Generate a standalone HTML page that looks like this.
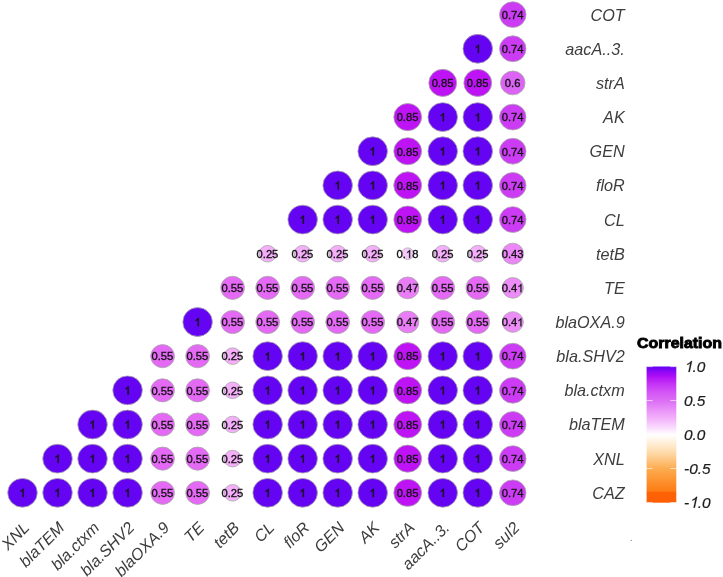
<!DOCTYPE html><html><head><meta charset="utf-8"><style>html,body{margin:0;padding:0;background:#fff}body{width:723px;height:577px;overflow:hidden}</style></head><body><svg width="723" height="577" viewBox="0 0 723 577" style="display:block;filter:blur(0.4px);font-family:'Liberation Sans',sans-serif">
<rect width="723" height="577" fill="#fff"/>
<ellipse cx="22.50" cy="492.80" rx="14.77" ry="14.40" fill="#6404F2" stroke="#a8a8a8" stroke-width="0.8"/>
<ellipse cx="57.52" cy="492.80" rx="14.77" ry="14.40" fill="#6404F2" stroke="#a8a8a8" stroke-width="0.8"/>
<ellipse cx="92.54" cy="492.80" rx="14.77" ry="14.40" fill="#6404F2" stroke="#a8a8a8" stroke-width="0.8"/>
<ellipse cx="127.56" cy="492.80" rx="14.77" ry="14.40" fill="#6404F2" stroke="#a8a8a8" stroke-width="0.8"/>
<ellipse cx="162.58" cy="492.80" rx="11.88" ry="11.58" fill="#E469F5" stroke="#a8a8a8" stroke-width="0.8"/>
<ellipse cx="197.60" cy="492.80" rx="11.88" ry="11.58" fill="#E469F5" stroke="#a8a8a8" stroke-width="0.8"/>
<ellipse cx="232.62" cy="492.80" rx="8.53" ry="8.31" fill="#F5AFFA" stroke="#a8a8a8" stroke-width="0.8"/>
<ellipse cx="267.64" cy="492.80" rx="14.77" ry="14.40" fill="#6404F2" stroke="#a8a8a8" stroke-width="0.8"/>
<ellipse cx="302.66" cy="492.80" rx="14.77" ry="14.40" fill="#6404F2" stroke="#a8a8a8" stroke-width="0.8"/>
<ellipse cx="337.68" cy="492.80" rx="14.77" ry="14.40" fill="#6404F2" stroke="#a8a8a8" stroke-width="0.8"/>
<ellipse cx="372.70" cy="492.80" rx="14.77" ry="14.40" fill="#6404F2" stroke="#a8a8a8" stroke-width="0.8"/>
<ellipse cx="407.72" cy="492.80" rx="13.92" ry="13.57" fill="#BE14F5" stroke="#a8a8a8" stroke-width="0.8"/>
<ellipse cx="442.74" cy="492.80" rx="14.77" ry="14.40" fill="#6404F2" stroke="#a8a8a8" stroke-width="0.8"/>
<ellipse cx="477.76" cy="492.80" rx="14.77" ry="14.40" fill="#6404F2" stroke="#a8a8a8" stroke-width="0.8"/>
<ellipse cx="512.78" cy="492.80" rx="13.24" ry="12.91" fill="#CD3CF5" stroke="#a8a8a8" stroke-width="0.8"/>
<ellipse cx="57.52" cy="458.64" rx="14.77" ry="14.40" fill="#6404F2" stroke="#a8a8a8" stroke-width="0.8"/>
<ellipse cx="92.54" cy="458.64" rx="14.77" ry="14.40" fill="#6404F2" stroke="#a8a8a8" stroke-width="0.8"/>
<ellipse cx="127.56" cy="458.64" rx="14.77" ry="14.40" fill="#6404F2" stroke="#a8a8a8" stroke-width="0.8"/>
<ellipse cx="162.58" cy="458.64" rx="11.88" ry="11.58" fill="#E469F5" stroke="#a8a8a8" stroke-width="0.8"/>
<ellipse cx="197.60" cy="458.64" rx="11.88" ry="11.58" fill="#E469F5" stroke="#a8a8a8" stroke-width="0.8"/>
<ellipse cx="232.62" cy="458.64" rx="8.53" ry="8.31" fill="#F5AFFA" stroke="#a8a8a8" stroke-width="0.8"/>
<ellipse cx="267.64" cy="458.64" rx="14.77" ry="14.40" fill="#6404F2" stroke="#a8a8a8" stroke-width="0.8"/>
<ellipse cx="302.66" cy="458.64" rx="14.77" ry="14.40" fill="#6404F2" stroke="#a8a8a8" stroke-width="0.8"/>
<ellipse cx="337.68" cy="458.64" rx="14.77" ry="14.40" fill="#6404F2" stroke="#a8a8a8" stroke-width="0.8"/>
<ellipse cx="372.70" cy="458.64" rx="14.77" ry="14.40" fill="#6404F2" stroke="#a8a8a8" stroke-width="0.8"/>
<ellipse cx="407.72" cy="458.64" rx="13.92" ry="13.57" fill="#BE14F5" stroke="#a8a8a8" stroke-width="0.8"/>
<ellipse cx="442.74" cy="458.64" rx="14.77" ry="14.40" fill="#6404F2" stroke="#a8a8a8" stroke-width="0.8"/>
<ellipse cx="477.76" cy="458.64" rx="14.77" ry="14.40" fill="#6404F2" stroke="#a8a8a8" stroke-width="0.8"/>
<ellipse cx="512.78" cy="458.64" rx="13.24" ry="12.91" fill="#CD3CF5" stroke="#a8a8a8" stroke-width="0.8"/>
<ellipse cx="92.54" cy="424.48" rx="14.77" ry="14.40" fill="#6404F2" stroke="#a8a8a8" stroke-width="0.8"/>
<ellipse cx="127.56" cy="424.48" rx="14.77" ry="14.40" fill="#6404F2" stroke="#a8a8a8" stroke-width="0.8"/>
<ellipse cx="162.58" cy="424.48" rx="11.88" ry="11.58" fill="#E469F5" stroke="#a8a8a8" stroke-width="0.8"/>
<ellipse cx="197.60" cy="424.48" rx="11.88" ry="11.58" fill="#E469F5" stroke="#a8a8a8" stroke-width="0.8"/>
<ellipse cx="232.62" cy="424.48" rx="8.53" ry="8.31" fill="#F5AFFA" stroke="#a8a8a8" stroke-width="0.8"/>
<ellipse cx="267.64" cy="424.48" rx="14.77" ry="14.40" fill="#6404F2" stroke="#a8a8a8" stroke-width="0.8"/>
<ellipse cx="302.66" cy="424.48" rx="14.77" ry="14.40" fill="#6404F2" stroke="#a8a8a8" stroke-width="0.8"/>
<ellipse cx="337.68" cy="424.48" rx="14.77" ry="14.40" fill="#6404F2" stroke="#a8a8a8" stroke-width="0.8"/>
<ellipse cx="372.70" cy="424.48" rx="14.77" ry="14.40" fill="#6404F2" stroke="#a8a8a8" stroke-width="0.8"/>
<ellipse cx="407.72" cy="424.48" rx="13.92" ry="13.57" fill="#BE14F5" stroke="#a8a8a8" stroke-width="0.8"/>
<ellipse cx="442.74" cy="424.48" rx="14.77" ry="14.40" fill="#6404F2" stroke="#a8a8a8" stroke-width="0.8"/>
<ellipse cx="477.76" cy="424.48" rx="14.77" ry="14.40" fill="#6404F2" stroke="#a8a8a8" stroke-width="0.8"/>
<ellipse cx="512.78" cy="424.48" rx="13.24" ry="12.91" fill="#CD3CF5" stroke="#a8a8a8" stroke-width="0.8"/>
<ellipse cx="127.56" cy="390.33" rx="14.77" ry="14.40" fill="#6404F2" stroke="#a8a8a8" stroke-width="0.8"/>
<ellipse cx="162.58" cy="390.33" rx="11.88" ry="11.58" fill="#E469F5" stroke="#a8a8a8" stroke-width="0.8"/>
<ellipse cx="197.60" cy="390.33" rx="11.88" ry="11.58" fill="#E469F5" stroke="#a8a8a8" stroke-width="0.8"/>
<ellipse cx="232.62" cy="390.33" rx="8.53" ry="8.31" fill="#F5AFFA" stroke="#a8a8a8" stroke-width="0.8"/>
<ellipse cx="267.64" cy="390.33" rx="14.77" ry="14.40" fill="#6404F2" stroke="#a8a8a8" stroke-width="0.8"/>
<ellipse cx="302.66" cy="390.33" rx="14.77" ry="14.40" fill="#6404F2" stroke="#a8a8a8" stroke-width="0.8"/>
<ellipse cx="337.68" cy="390.33" rx="14.77" ry="14.40" fill="#6404F2" stroke="#a8a8a8" stroke-width="0.8"/>
<ellipse cx="372.70" cy="390.33" rx="14.77" ry="14.40" fill="#6404F2" stroke="#a8a8a8" stroke-width="0.8"/>
<ellipse cx="407.72" cy="390.33" rx="13.92" ry="13.57" fill="#BE14F5" stroke="#a8a8a8" stroke-width="0.8"/>
<ellipse cx="442.74" cy="390.33" rx="14.77" ry="14.40" fill="#6404F2" stroke="#a8a8a8" stroke-width="0.8"/>
<ellipse cx="477.76" cy="390.33" rx="14.77" ry="14.40" fill="#6404F2" stroke="#a8a8a8" stroke-width="0.8"/>
<ellipse cx="512.78" cy="390.33" rx="13.24" ry="12.91" fill="#CD3CF5" stroke="#a8a8a8" stroke-width="0.8"/>
<ellipse cx="162.58" cy="356.17" rx="11.88" ry="11.58" fill="#E469F5" stroke="#a8a8a8" stroke-width="0.8"/>
<ellipse cx="197.60" cy="356.17" rx="11.88" ry="11.58" fill="#E469F5" stroke="#a8a8a8" stroke-width="0.8"/>
<ellipse cx="232.62" cy="356.17" rx="8.53" ry="8.31" fill="#F5AFFA" stroke="#a8a8a8" stroke-width="0.8"/>
<ellipse cx="267.64" cy="356.17" rx="14.77" ry="14.40" fill="#6404F2" stroke="#a8a8a8" stroke-width="0.8"/>
<ellipse cx="302.66" cy="356.17" rx="14.77" ry="14.40" fill="#6404F2" stroke="#a8a8a8" stroke-width="0.8"/>
<ellipse cx="337.68" cy="356.17" rx="14.77" ry="14.40" fill="#6404F2" stroke="#a8a8a8" stroke-width="0.8"/>
<ellipse cx="372.70" cy="356.17" rx="14.77" ry="14.40" fill="#6404F2" stroke="#a8a8a8" stroke-width="0.8"/>
<ellipse cx="407.72" cy="356.17" rx="13.92" ry="13.57" fill="#BE14F5" stroke="#a8a8a8" stroke-width="0.8"/>
<ellipse cx="442.74" cy="356.17" rx="14.77" ry="14.40" fill="#6404F2" stroke="#a8a8a8" stroke-width="0.8"/>
<ellipse cx="477.76" cy="356.17" rx="14.77" ry="14.40" fill="#6404F2" stroke="#a8a8a8" stroke-width="0.8"/>
<ellipse cx="512.78" cy="356.17" rx="13.24" ry="12.91" fill="#CD3CF5" stroke="#a8a8a8" stroke-width="0.8"/>
<ellipse cx="197.60" cy="322.01" rx="14.77" ry="14.40" fill="#6404F2" stroke="#a8a8a8" stroke-width="0.8"/>
<ellipse cx="232.62" cy="322.01" rx="11.88" ry="11.58" fill="#E469F5" stroke="#a8a8a8" stroke-width="0.8"/>
<ellipse cx="267.64" cy="322.01" rx="11.88" ry="11.58" fill="#E469F5" stroke="#a8a8a8" stroke-width="0.8"/>
<ellipse cx="302.66" cy="322.01" rx="11.88" ry="11.58" fill="#E469F5" stroke="#a8a8a8" stroke-width="0.8"/>
<ellipse cx="337.68" cy="322.01" rx="11.88" ry="11.58" fill="#E469F5" stroke="#a8a8a8" stroke-width="0.8"/>
<ellipse cx="372.70" cy="322.01" rx="11.88" ry="11.58" fill="#E469F5" stroke="#a8a8a8" stroke-width="0.8"/>
<ellipse cx="407.72" cy="322.01" rx="11.20" ry="10.91" fill="#E87DF5" stroke="#a8a8a8" stroke-width="0.8"/>
<ellipse cx="442.74" cy="322.01" rx="11.88" ry="11.58" fill="#E469F5" stroke="#a8a8a8" stroke-width="0.8"/>
<ellipse cx="477.76" cy="322.01" rx="11.88" ry="11.58" fill="#E469F5" stroke="#a8a8a8" stroke-width="0.8"/>
<ellipse cx="512.78" cy="322.01" rx="10.62" ry="10.35" fill="#EC8CF7" stroke="#a8a8a8" stroke-width="0.8"/>
<ellipse cx="232.62" cy="287.86" rx="11.88" ry="11.58" fill="#E469F5" stroke="#a8a8a8" stroke-width="0.8"/>
<ellipse cx="267.64" cy="287.86" rx="11.88" ry="11.58" fill="#E469F5" stroke="#a8a8a8" stroke-width="0.8"/>
<ellipse cx="302.66" cy="287.86" rx="11.88" ry="11.58" fill="#E469F5" stroke="#a8a8a8" stroke-width="0.8"/>
<ellipse cx="337.68" cy="287.86" rx="11.88" ry="11.58" fill="#E469F5" stroke="#a8a8a8" stroke-width="0.8"/>
<ellipse cx="372.70" cy="287.86" rx="11.88" ry="11.58" fill="#E469F5" stroke="#a8a8a8" stroke-width="0.8"/>
<ellipse cx="407.72" cy="287.86" rx="11.20" ry="10.91" fill="#E87DF5" stroke="#a8a8a8" stroke-width="0.8"/>
<ellipse cx="442.74" cy="287.86" rx="11.88" ry="11.58" fill="#E469F5" stroke="#a8a8a8" stroke-width="0.8"/>
<ellipse cx="477.76" cy="287.86" rx="11.88" ry="11.58" fill="#E469F5" stroke="#a8a8a8" stroke-width="0.8"/>
<ellipse cx="512.78" cy="287.86" rx="10.62" ry="10.35" fill="#EC8CF7" stroke="#a8a8a8" stroke-width="0.8"/>
<ellipse cx="267.64" cy="253.70" rx="8.53" ry="8.31" fill="#F5AFFA" stroke="#a8a8a8" stroke-width="0.8"/>
<ellipse cx="302.66" cy="253.70" rx="8.53" ry="8.31" fill="#F5AFFA" stroke="#a8a8a8" stroke-width="0.8"/>
<ellipse cx="337.68" cy="253.70" rx="8.53" ry="8.31" fill="#F5AFFA" stroke="#a8a8a8" stroke-width="0.8"/>
<ellipse cx="372.70" cy="253.70" rx="8.53" ry="8.31" fill="#F5AFFA" stroke="#a8a8a8" stroke-width="0.8"/>
<ellipse cx="407.72" cy="253.70" rx="5.95" ry="5.80" fill="#F5C8FA" stroke="#a8a8a8" stroke-width="0.8"/>
<ellipse cx="442.74" cy="253.70" rx="8.53" ry="8.31" fill="#F5AFFA" stroke="#a8a8a8" stroke-width="0.8"/>
<ellipse cx="477.76" cy="253.70" rx="8.53" ry="8.31" fill="#F5AFFA" stroke="#a8a8a8" stroke-width="0.8"/>
<ellipse cx="512.78" cy="253.70" rx="10.82" ry="10.55" fill="#EB87F7" stroke="#a8a8a8" stroke-width="0.8"/>
<ellipse cx="302.66" cy="219.54" rx="14.77" ry="14.40" fill="#6404F2" stroke="#a8a8a8" stroke-width="0.8"/>
<ellipse cx="337.68" cy="219.54" rx="14.77" ry="14.40" fill="#6404F2" stroke="#a8a8a8" stroke-width="0.8"/>
<ellipse cx="372.70" cy="219.54" rx="14.77" ry="14.40" fill="#6404F2" stroke="#a8a8a8" stroke-width="0.8"/>
<ellipse cx="407.72" cy="219.54" rx="13.92" ry="13.57" fill="#BE14F5" stroke="#a8a8a8" stroke-width="0.8"/>
<ellipse cx="442.74" cy="219.54" rx="14.77" ry="14.40" fill="#6404F2" stroke="#a8a8a8" stroke-width="0.8"/>
<ellipse cx="477.76" cy="219.54" rx="14.77" ry="14.40" fill="#6404F2" stroke="#a8a8a8" stroke-width="0.8"/>
<ellipse cx="512.78" cy="219.54" rx="13.24" ry="12.91" fill="#CD3CF5" stroke="#a8a8a8" stroke-width="0.8"/>
<ellipse cx="337.68" cy="185.38" rx="14.77" ry="14.40" fill="#6404F2" stroke="#a8a8a8" stroke-width="0.8"/>
<ellipse cx="372.70" cy="185.38" rx="14.77" ry="14.40" fill="#6404F2" stroke="#a8a8a8" stroke-width="0.8"/>
<ellipse cx="407.72" cy="185.38" rx="13.92" ry="13.57" fill="#BE14F5" stroke="#a8a8a8" stroke-width="0.8"/>
<ellipse cx="442.74" cy="185.38" rx="14.77" ry="14.40" fill="#6404F2" stroke="#a8a8a8" stroke-width="0.8"/>
<ellipse cx="477.76" cy="185.38" rx="14.77" ry="14.40" fill="#6404F2" stroke="#a8a8a8" stroke-width="0.8"/>
<ellipse cx="512.78" cy="185.38" rx="13.24" ry="12.91" fill="#CD3CF5" stroke="#a8a8a8" stroke-width="0.8"/>
<ellipse cx="372.70" cy="151.23" rx="14.77" ry="14.40" fill="#6404F2" stroke="#a8a8a8" stroke-width="0.8"/>
<ellipse cx="407.72" cy="151.23" rx="13.92" ry="13.57" fill="#BE14F5" stroke="#a8a8a8" stroke-width="0.8"/>
<ellipse cx="442.74" cy="151.23" rx="14.77" ry="14.40" fill="#6404F2" stroke="#a8a8a8" stroke-width="0.8"/>
<ellipse cx="477.76" cy="151.23" rx="14.77" ry="14.40" fill="#6404F2" stroke="#a8a8a8" stroke-width="0.8"/>
<ellipse cx="512.78" cy="151.23" rx="13.24" ry="12.91" fill="#CD3CF5" stroke="#a8a8a8" stroke-width="0.8"/>
<ellipse cx="407.72" cy="117.07" rx="13.92" ry="13.57" fill="#BE14F5" stroke="#a8a8a8" stroke-width="0.8"/>
<ellipse cx="442.74" cy="117.07" rx="14.77" ry="14.40" fill="#6404F2" stroke="#a8a8a8" stroke-width="0.8"/>
<ellipse cx="477.76" cy="117.07" rx="14.77" ry="14.40" fill="#6404F2" stroke="#a8a8a8" stroke-width="0.8"/>
<ellipse cx="512.78" cy="117.07" rx="13.24" ry="12.91" fill="#CD3CF5" stroke="#a8a8a8" stroke-width="0.8"/>
<ellipse cx="442.74" cy="82.91" rx="13.92" ry="13.57" fill="#BE14F5" stroke="#a8a8a8" stroke-width="0.8"/>
<ellipse cx="477.76" cy="82.91" rx="13.92" ry="13.57" fill="#BE14F5" stroke="#a8a8a8" stroke-width="0.8"/>
<ellipse cx="512.78" cy="82.91" rx="12.26" ry="11.95" fill="#DC64F5" stroke="#a8a8a8" stroke-width="0.8"/>
<ellipse cx="477.76" cy="48.76" rx="14.77" ry="14.40" fill="#6404F2" stroke="#a8a8a8" stroke-width="0.8"/>
<ellipse cx="512.78" cy="48.76" rx="13.24" ry="12.91" fill="#CD3CF5" stroke="#a8a8a8" stroke-width="0.8"/>
<ellipse cx="512.78" cy="14.60" rx="13.24" ry="12.91" fill="#CD3CF5" stroke="#a8a8a8" stroke-width="0.8"/>
<path transform="translate(19.36,496.90) scale(0.005518,-0.005518)" d="M763 0H583V1147Q518 1085 412.5 1023T223 930V1104Q373 1174.5 485 1275T644 1470H763Z" fill="#161616" stroke="#161616" stroke-width="85"/>
<path transform="translate(54.38,496.90) scale(0.005518,-0.005518)" d="M763 0H583V1147Q518 1085 412.5 1023T223 930V1104Q373 1174.5 485 1275T644 1470H763Z" fill="#161616" stroke="#161616" stroke-width="85"/>
<path transform="translate(89.40,496.90) scale(0.005518,-0.005518)" d="M763 0H583V1147Q518 1085 412.5 1023T223 930V1104Q373 1174.5 485 1275T644 1470H763Z" fill="#161616" stroke="#161616" stroke-width="85"/>
<path transform="translate(124.42,496.90) scale(0.005518,-0.005518)" d="M763 0H583V1147Q518 1085 412.5 1023T223 930V1104Q373 1174.5 485 1275T644 1470H763Z" fill="#161616" stroke="#161616" stroke-width="85"/>
<text x="162.38" y="497.10" text-anchor="middle" font-size="11.2" fill="#141414" stroke="#141414" stroke-width="0.35">0.55</text>
<text x="197.40" y="497.10" text-anchor="middle" font-size="11.2" fill="#141414" stroke="#141414" stroke-width="0.35">0.55</text>
<text x="232.42" y="497.10" text-anchor="middle" font-size="11.2" fill="#141414" stroke="#141414" stroke-width="0.35">0.25</text>
<path transform="translate(264.50,496.90) scale(0.005518,-0.005518)" d="M763 0H583V1147Q518 1085 412.5 1023T223 930V1104Q373 1174.5 485 1275T644 1470H763Z" fill="#161616" stroke="#161616" stroke-width="85"/>
<path transform="translate(299.52,496.90) scale(0.005518,-0.005518)" d="M763 0H583V1147Q518 1085 412.5 1023T223 930V1104Q373 1174.5 485 1275T644 1470H763Z" fill="#161616" stroke="#161616" stroke-width="85"/>
<path transform="translate(334.54,496.90) scale(0.005518,-0.005518)" d="M763 0H583V1147Q518 1085 412.5 1023T223 930V1104Q373 1174.5 485 1275T644 1470H763Z" fill="#161616" stroke="#161616" stroke-width="85"/>
<path transform="translate(369.56,496.90) scale(0.005518,-0.005518)" d="M763 0H583V1147Q518 1085 412.5 1023T223 930V1104Q373 1174.5 485 1275T644 1470H763Z" fill="#161616" stroke="#161616" stroke-width="85"/>
<text x="407.52" y="497.10" text-anchor="middle" font-size="11.2" fill="#141414" stroke="#141414" stroke-width="0.35">0.85</text>
<path transform="translate(439.60,496.90) scale(0.005518,-0.005518)" d="M763 0H583V1147Q518 1085 412.5 1023T223 930V1104Q373 1174.5 485 1275T644 1470H763Z" fill="#161616" stroke="#161616" stroke-width="85"/>
<path transform="translate(474.62,496.90) scale(0.005518,-0.005518)" d="M763 0H583V1147Q518 1085 412.5 1023T223 930V1104Q373 1174.5 485 1275T644 1470H763Z" fill="#161616" stroke="#161616" stroke-width="85"/>
<text x="512.58" y="497.10" text-anchor="middle" font-size="11.2" fill="#141414" stroke="#141414" stroke-width="0.35">0.74</text>
<path transform="translate(54.38,462.74) scale(0.005518,-0.005518)" d="M763 0H583V1147Q518 1085 412.5 1023T223 930V1104Q373 1174.5 485 1275T644 1470H763Z" fill="#161616" stroke="#161616" stroke-width="85"/>
<path transform="translate(89.40,462.74) scale(0.005518,-0.005518)" d="M763 0H583V1147Q518 1085 412.5 1023T223 930V1104Q373 1174.5 485 1275T644 1470H763Z" fill="#161616" stroke="#161616" stroke-width="85"/>
<path transform="translate(124.42,462.74) scale(0.005518,-0.005518)" d="M763 0H583V1147Q518 1085 412.5 1023T223 930V1104Q373 1174.5 485 1275T644 1470H763Z" fill="#161616" stroke="#161616" stroke-width="85"/>
<text x="162.38" y="462.94" text-anchor="middle" font-size="11.2" fill="#141414" stroke="#141414" stroke-width="0.35">0.55</text>
<text x="197.40" y="462.94" text-anchor="middle" font-size="11.2" fill="#141414" stroke="#141414" stroke-width="0.35">0.55</text>
<text x="232.42" y="462.94" text-anchor="middle" font-size="11.2" fill="#141414" stroke="#141414" stroke-width="0.35">0.25</text>
<path transform="translate(264.50,462.74) scale(0.005518,-0.005518)" d="M763 0H583V1147Q518 1085 412.5 1023T223 930V1104Q373 1174.5 485 1275T644 1470H763Z" fill="#161616" stroke="#161616" stroke-width="85"/>
<path transform="translate(299.52,462.74) scale(0.005518,-0.005518)" d="M763 0H583V1147Q518 1085 412.5 1023T223 930V1104Q373 1174.5 485 1275T644 1470H763Z" fill="#161616" stroke="#161616" stroke-width="85"/>
<path transform="translate(334.54,462.74) scale(0.005518,-0.005518)" d="M763 0H583V1147Q518 1085 412.5 1023T223 930V1104Q373 1174.5 485 1275T644 1470H763Z" fill="#161616" stroke="#161616" stroke-width="85"/>
<path transform="translate(369.56,462.74) scale(0.005518,-0.005518)" d="M763 0H583V1147Q518 1085 412.5 1023T223 930V1104Q373 1174.5 485 1275T644 1470H763Z" fill="#161616" stroke="#161616" stroke-width="85"/>
<text x="407.52" y="462.94" text-anchor="middle" font-size="11.2" fill="#141414" stroke="#141414" stroke-width="0.35">0.85</text>
<path transform="translate(439.60,462.74) scale(0.005518,-0.005518)" d="M763 0H583V1147Q518 1085 412.5 1023T223 930V1104Q373 1174.5 485 1275T644 1470H763Z" fill="#161616" stroke="#161616" stroke-width="85"/>
<path transform="translate(474.62,462.74) scale(0.005518,-0.005518)" d="M763 0H583V1147Q518 1085 412.5 1023T223 930V1104Q373 1174.5 485 1275T644 1470H763Z" fill="#161616" stroke="#161616" stroke-width="85"/>
<text x="512.58" y="462.94" text-anchor="middle" font-size="11.2" fill="#141414" stroke="#141414" stroke-width="0.35">0.74</text>
<path transform="translate(89.40,428.58) scale(0.005518,-0.005518)" d="M763 0H583V1147Q518 1085 412.5 1023T223 930V1104Q373 1174.5 485 1275T644 1470H763Z" fill="#161616" stroke="#161616" stroke-width="85"/>
<path transform="translate(124.42,428.58) scale(0.005518,-0.005518)" d="M763 0H583V1147Q518 1085 412.5 1023T223 930V1104Q373 1174.5 485 1275T644 1470H763Z" fill="#161616" stroke="#161616" stroke-width="85"/>
<text x="162.38" y="428.78" text-anchor="middle" font-size="11.2" fill="#141414" stroke="#141414" stroke-width="0.35">0.55</text>
<text x="197.40" y="428.78" text-anchor="middle" font-size="11.2" fill="#141414" stroke="#141414" stroke-width="0.35">0.55</text>
<text x="232.42" y="428.78" text-anchor="middle" font-size="11.2" fill="#141414" stroke="#141414" stroke-width="0.35">0.25</text>
<path transform="translate(264.50,428.58) scale(0.005518,-0.005518)" d="M763 0H583V1147Q518 1085 412.5 1023T223 930V1104Q373 1174.5 485 1275T644 1470H763Z" fill="#161616" stroke="#161616" stroke-width="85"/>
<path transform="translate(299.52,428.58) scale(0.005518,-0.005518)" d="M763 0H583V1147Q518 1085 412.5 1023T223 930V1104Q373 1174.5 485 1275T644 1470H763Z" fill="#161616" stroke="#161616" stroke-width="85"/>
<path transform="translate(334.54,428.58) scale(0.005518,-0.005518)" d="M763 0H583V1147Q518 1085 412.5 1023T223 930V1104Q373 1174.5 485 1275T644 1470H763Z" fill="#161616" stroke="#161616" stroke-width="85"/>
<path transform="translate(369.56,428.58) scale(0.005518,-0.005518)" d="M763 0H583V1147Q518 1085 412.5 1023T223 930V1104Q373 1174.5 485 1275T644 1470H763Z" fill="#161616" stroke="#161616" stroke-width="85"/>
<text x="407.52" y="428.78" text-anchor="middle" font-size="11.2" fill="#141414" stroke="#141414" stroke-width="0.35">0.85</text>
<path transform="translate(439.60,428.58) scale(0.005518,-0.005518)" d="M763 0H583V1147Q518 1085 412.5 1023T223 930V1104Q373 1174.5 485 1275T644 1470H763Z" fill="#161616" stroke="#161616" stroke-width="85"/>
<path transform="translate(474.62,428.58) scale(0.005518,-0.005518)" d="M763 0H583V1147Q518 1085 412.5 1023T223 930V1104Q373 1174.5 485 1275T644 1470H763Z" fill="#161616" stroke="#161616" stroke-width="85"/>
<text x="512.58" y="428.78" text-anchor="middle" font-size="11.2" fill="#141414" stroke="#141414" stroke-width="0.35">0.74</text>
<path transform="translate(124.42,394.43) scale(0.005518,-0.005518)" d="M763 0H583V1147Q518 1085 412.5 1023T223 930V1104Q373 1174.5 485 1275T644 1470H763Z" fill="#161616" stroke="#161616" stroke-width="85"/>
<text x="162.38" y="394.63" text-anchor="middle" font-size="11.2" fill="#141414" stroke="#141414" stroke-width="0.35">0.55</text>
<text x="197.40" y="394.63" text-anchor="middle" font-size="11.2" fill="#141414" stroke="#141414" stroke-width="0.35">0.55</text>
<text x="232.42" y="394.63" text-anchor="middle" font-size="11.2" fill="#141414" stroke="#141414" stroke-width="0.35">0.25</text>
<path transform="translate(264.50,394.43) scale(0.005518,-0.005518)" d="M763 0H583V1147Q518 1085 412.5 1023T223 930V1104Q373 1174.5 485 1275T644 1470H763Z" fill="#161616" stroke="#161616" stroke-width="85"/>
<path transform="translate(299.52,394.43) scale(0.005518,-0.005518)" d="M763 0H583V1147Q518 1085 412.5 1023T223 930V1104Q373 1174.5 485 1275T644 1470H763Z" fill="#161616" stroke="#161616" stroke-width="85"/>
<path transform="translate(334.54,394.43) scale(0.005518,-0.005518)" d="M763 0H583V1147Q518 1085 412.5 1023T223 930V1104Q373 1174.5 485 1275T644 1470H763Z" fill="#161616" stroke="#161616" stroke-width="85"/>
<path transform="translate(369.56,394.43) scale(0.005518,-0.005518)" d="M763 0H583V1147Q518 1085 412.5 1023T223 930V1104Q373 1174.5 485 1275T644 1470H763Z" fill="#161616" stroke="#161616" stroke-width="85"/>
<text x="407.52" y="394.63" text-anchor="middle" font-size="11.2" fill="#141414" stroke="#141414" stroke-width="0.35">0.85</text>
<path transform="translate(439.60,394.43) scale(0.005518,-0.005518)" d="M763 0H583V1147Q518 1085 412.5 1023T223 930V1104Q373 1174.5 485 1275T644 1470H763Z" fill="#161616" stroke="#161616" stroke-width="85"/>
<path transform="translate(474.62,394.43) scale(0.005518,-0.005518)" d="M763 0H583V1147Q518 1085 412.5 1023T223 930V1104Q373 1174.5 485 1275T644 1470H763Z" fill="#161616" stroke="#161616" stroke-width="85"/>
<text x="512.58" y="394.63" text-anchor="middle" font-size="11.2" fill="#141414" stroke="#141414" stroke-width="0.35">0.74</text>
<text x="162.38" y="360.47" text-anchor="middle" font-size="11.2" fill="#141414" stroke="#141414" stroke-width="0.35">0.55</text>
<text x="197.40" y="360.47" text-anchor="middle" font-size="11.2" fill="#141414" stroke="#141414" stroke-width="0.35">0.55</text>
<text x="232.42" y="360.47" text-anchor="middle" font-size="11.2" fill="#141414" stroke="#141414" stroke-width="0.35">0.25</text>
<path transform="translate(264.50,360.27) scale(0.005518,-0.005518)" d="M763 0H583V1147Q518 1085 412.5 1023T223 930V1104Q373 1174.5 485 1275T644 1470H763Z" fill="#161616" stroke="#161616" stroke-width="85"/>
<path transform="translate(299.52,360.27) scale(0.005518,-0.005518)" d="M763 0H583V1147Q518 1085 412.5 1023T223 930V1104Q373 1174.5 485 1275T644 1470H763Z" fill="#161616" stroke="#161616" stroke-width="85"/>
<path transform="translate(334.54,360.27) scale(0.005518,-0.005518)" d="M763 0H583V1147Q518 1085 412.5 1023T223 930V1104Q373 1174.5 485 1275T644 1470H763Z" fill="#161616" stroke="#161616" stroke-width="85"/>
<path transform="translate(369.56,360.27) scale(0.005518,-0.005518)" d="M763 0H583V1147Q518 1085 412.5 1023T223 930V1104Q373 1174.5 485 1275T644 1470H763Z" fill="#161616" stroke="#161616" stroke-width="85"/>
<text x="407.52" y="360.47" text-anchor="middle" font-size="11.2" fill="#141414" stroke="#141414" stroke-width="0.35">0.85</text>
<path transform="translate(439.60,360.27) scale(0.005518,-0.005518)" d="M763 0H583V1147Q518 1085 412.5 1023T223 930V1104Q373 1174.5 485 1275T644 1470H763Z" fill="#161616" stroke="#161616" stroke-width="85"/>
<path transform="translate(474.62,360.27) scale(0.005518,-0.005518)" d="M763 0H583V1147Q518 1085 412.5 1023T223 930V1104Q373 1174.5 485 1275T644 1470H763Z" fill="#161616" stroke="#161616" stroke-width="85"/>
<text x="512.58" y="360.47" text-anchor="middle" font-size="11.2" fill="#141414" stroke="#141414" stroke-width="0.35">0.74</text>
<path transform="translate(194.46,326.11) scale(0.005518,-0.005518)" d="M763 0H583V1147Q518 1085 412.5 1023T223 930V1104Q373 1174.5 485 1275T644 1470H763Z" fill="#161616" stroke="#161616" stroke-width="85"/>
<text x="232.42" y="326.31" text-anchor="middle" font-size="11.2" fill="#141414" stroke="#141414" stroke-width="0.35">0.55</text>
<text x="267.44" y="326.31" text-anchor="middle" font-size="11.2" fill="#141414" stroke="#141414" stroke-width="0.35">0.55</text>
<text x="302.46" y="326.31" text-anchor="middle" font-size="11.2" fill="#141414" stroke="#141414" stroke-width="0.35">0.55</text>
<text x="337.48" y="326.31" text-anchor="middle" font-size="11.2" fill="#141414" stroke="#141414" stroke-width="0.35">0.55</text>
<text x="372.50" y="326.31" text-anchor="middle" font-size="11.2" fill="#141414" stroke="#141414" stroke-width="0.35">0.55</text>
<text x="407.52" y="326.31" text-anchor="middle" font-size="11.2" fill="#141414" stroke="#141414" stroke-width="0.35">0.47</text>
<text x="442.54" y="326.31" text-anchor="middle" font-size="11.2" fill="#141414" stroke="#141414" stroke-width="0.35">0.55</text>
<text x="477.56" y="326.31" text-anchor="middle" font-size="11.2" fill="#141414" stroke="#141414" stroke-width="0.35">0.55</text>
<text x="501.68" y="326.31" text-anchor="start" font-size="11.2" fill="#141414" stroke="#141414" stroke-width="0.35">0.4</text>
<path transform="translate(517.25,326.31) scale(0.005469,-0.005469)" d="M763 0H583V1147Q518 1085 412.5 1023T223 930V1104Q373 1174.5 485 1275T644 1470H763Z" fill="#181818" stroke="#181818" stroke-width="45"/>
<text x="232.42" y="292.16" text-anchor="middle" font-size="11.2" fill="#141414" stroke="#141414" stroke-width="0.35">0.55</text>
<text x="267.44" y="292.16" text-anchor="middle" font-size="11.2" fill="#141414" stroke="#141414" stroke-width="0.35">0.55</text>
<text x="302.46" y="292.16" text-anchor="middle" font-size="11.2" fill="#141414" stroke="#141414" stroke-width="0.35">0.55</text>
<text x="337.48" y="292.16" text-anchor="middle" font-size="11.2" fill="#141414" stroke="#141414" stroke-width="0.35">0.55</text>
<text x="372.50" y="292.16" text-anchor="middle" font-size="11.2" fill="#141414" stroke="#141414" stroke-width="0.35">0.55</text>
<text x="407.52" y="292.16" text-anchor="middle" font-size="11.2" fill="#141414" stroke="#141414" stroke-width="0.35">0.47</text>
<text x="442.54" y="292.16" text-anchor="middle" font-size="11.2" fill="#141414" stroke="#141414" stroke-width="0.35">0.55</text>
<text x="477.56" y="292.16" text-anchor="middle" font-size="11.2" fill="#141414" stroke="#141414" stroke-width="0.35">0.55</text>
<text x="501.68" y="292.16" text-anchor="start" font-size="11.2" fill="#141414" stroke="#141414" stroke-width="0.35">0.4</text>
<path transform="translate(517.25,292.16) scale(0.005469,-0.005469)" d="M763 0H583V1147Q518 1085 412.5 1023T223 930V1104Q373 1174.5 485 1275T644 1470H763Z" fill="#181818" stroke="#181818" stroke-width="45"/>
<text x="267.44" y="258.00" text-anchor="middle" font-size="11.2" fill="#141414" stroke="#141414" stroke-width="0.35">0.25</text>
<text x="302.46" y="258.00" text-anchor="middle" font-size="11.2" fill="#141414" stroke="#141414" stroke-width="0.35">0.25</text>
<text x="337.48" y="258.00" text-anchor="middle" font-size="11.2" fill="#141414" stroke="#141414" stroke-width="0.35">0.25</text>
<text x="372.50" y="258.00" text-anchor="middle" font-size="11.2" fill="#141414" stroke="#141414" stroke-width="0.35">0.25</text>
<text x="396.62" y="258.00" text-anchor="start" font-size="11.2" fill="#141414" stroke="#141414" stroke-width="0.35">0.</text>
<path transform="translate(405.96,258.00) scale(0.005469,-0.005469)" d="M763 0H583V1147Q518 1085 412.5 1023T223 930V1104Q373 1174.5 485 1275T644 1470H763Z" fill="#181818" stroke="#181818" stroke-width="45"/>
<text x="412.19" y="258.00" text-anchor="start" font-size="11.2" fill="#141414" stroke="#141414" stroke-width="0.35">8</text>
<text x="442.54" y="258.00" text-anchor="middle" font-size="11.2" fill="#141414" stroke="#141414" stroke-width="0.35">0.25</text>
<text x="477.56" y="258.00" text-anchor="middle" font-size="11.2" fill="#141414" stroke="#141414" stroke-width="0.35">0.25</text>
<text x="512.58" y="258.00" text-anchor="middle" font-size="11.2" fill="#141414" stroke="#141414" stroke-width="0.35">0.43</text>
<path transform="translate(299.52,223.64) scale(0.005518,-0.005518)" d="M763 0H583V1147Q518 1085 412.5 1023T223 930V1104Q373 1174.5 485 1275T644 1470H763Z" fill="#161616" stroke="#161616" stroke-width="85"/>
<path transform="translate(334.54,223.64) scale(0.005518,-0.005518)" d="M763 0H583V1147Q518 1085 412.5 1023T223 930V1104Q373 1174.5 485 1275T644 1470H763Z" fill="#161616" stroke="#161616" stroke-width="85"/>
<path transform="translate(369.56,223.64) scale(0.005518,-0.005518)" d="M763 0H583V1147Q518 1085 412.5 1023T223 930V1104Q373 1174.5 485 1275T644 1470H763Z" fill="#161616" stroke="#161616" stroke-width="85"/>
<text x="407.52" y="223.84" text-anchor="middle" font-size="11.2" fill="#141414" stroke="#141414" stroke-width="0.35">0.85</text>
<path transform="translate(439.60,223.64) scale(0.005518,-0.005518)" d="M763 0H583V1147Q518 1085 412.5 1023T223 930V1104Q373 1174.5 485 1275T644 1470H763Z" fill="#161616" stroke="#161616" stroke-width="85"/>
<path transform="translate(474.62,223.64) scale(0.005518,-0.005518)" d="M763 0H583V1147Q518 1085 412.5 1023T223 930V1104Q373 1174.5 485 1275T644 1470H763Z" fill="#161616" stroke="#161616" stroke-width="85"/>
<text x="512.58" y="223.84" text-anchor="middle" font-size="11.2" fill="#141414" stroke="#141414" stroke-width="0.35">0.74</text>
<path transform="translate(334.54,189.48) scale(0.005518,-0.005518)" d="M763 0H583V1147Q518 1085 412.5 1023T223 930V1104Q373 1174.5 485 1275T644 1470H763Z" fill="#161616" stroke="#161616" stroke-width="85"/>
<path transform="translate(369.56,189.48) scale(0.005518,-0.005518)" d="M763 0H583V1147Q518 1085 412.5 1023T223 930V1104Q373 1174.5 485 1275T644 1470H763Z" fill="#161616" stroke="#161616" stroke-width="85"/>
<text x="407.52" y="189.68" text-anchor="middle" font-size="11.2" fill="#141414" stroke="#141414" stroke-width="0.35">0.85</text>
<path transform="translate(439.60,189.48) scale(0.005518,-0.005518)" d="M763 0H583V1147Q518 1085 412.5 1023T223 930V1104Q373 1174.5 485 1275T644 1470H763Z" fill="#161616" stroke="#161616" stroke-width="85"/>
<path transform="translate(474.62,189.48) scale(0.005518,-0.005518)" d="M763 0H583V1147Q518 1085 412.5 1023T223 930V1104Q373 1174.5 485 1275T644 1470H763Z" fill="#161616" stroke="#161616" stroke-width="85"/>
<text x="512.58" y="189.68" text-anchor="middle" font-size="11.2" fill="#141414" stroke="#141414" stroke-width="0.35">0.74</text>
<path transform="translate(369.56,155.33) scale(0.005518,-0.005518)" d="M763 0H583V1147Q518 1085 412.5 1023T223 930V1104Q373 1174.5 485 1275T644 1470H763Z" fill="#161616" stroke="#161616" stroke-width="85"/>
<text x="407.52" y="155.53" text-anchor="middle" font-size="11.2" fill="#141414" stroke="#141414" stroke-width="0.35">0.85</text>
<path transform="translate(439.60,155.33) scale(0.005518,-0.005518)" d="M763 0H583V1147Q518 1085 412.5 1023T223 930V1104Q373 1174.5 485 1275T644 1470H763Z" fill="#161616" stroke="#161616" stroke-width="85"/>
<path transform="translate(474.62,155.33) scale(0.005518,-0.005518)" d="M763 0H583V1147Q518 1085 412.5 1023T223 930V1104Q373 1174.5 485 1275T644 1470H763Z" fill="#161616" stroke="#161616" stroke-width="85"/>
<text x="512.58" y="155.53" text-anchor="middle" font-size="11.2" fill="#141414" stroke="#141414" stroke-width="0.35">0.74</text>
<text x="407.52" y="121.37" text-anchor="middle" font-size="11.2" fill="#141414" stroke="#141414" stroke-width="0.35">0.85</text>
<path transform="translate(439.60,121.17) scale(0.005518,-0.005518)" d="M763 0H583V1147Q518 1085 412.5 1023T223 930V1104Q373 1174.5 485 1275T644 1470H763Z" fill="#161616" stroke="#161616" stroke-width="85"/>
<path transform="translate(474.62,121.17) scale(0.005518,-0.005518)" d="M763 0H583V1147Q518 1085 412.5 1023T223 930V1104Q373 1174.5 485 1275T644 1470H763Z" fill="#161616" stroke="#161616" stroke-width="85"/>
<text x="512.58" y="121.37" text-anchor="middle" font-size="11.2" fill="#141414" stroke="#141414" stroke-width="0.35">0.74</text>
<text x="442.54" y="87.21" text-anchor="middle" font-size="11.2" fill="#141414" stroke="#141414" stroke-width="0.35">0.85</text>
<text x="477.56" y="87.21" text-anchor="middle" font-size="11.2" fill="#141414" stroke="#141414" stroke-width="0.35">0.85</text>
<text x="512.58" y="87.21" text-anchor="middle" font-size="11.2" fill="#141414" stroke="#141414" stroke-width="0.35">0.6</text>
<path transform="translate(474.62,52.86) scale(0.005518,-0.005518)" d="M763 0H583V1147Q518 1085 412.5 1023T223 930V1104Q373 1174.5 485 1275T644 1470H763Z" fill="#161616" stroke="#161616" stroke-width="85"/>
<text x="512.58" y="53.06" text-anchor="middle" font-size="11.2" fill="#141414" stroke="#141414" stroke-width="0.35">0.74</text>
<text x="512.58" y="18.90" text-anchor="middle" font-size="11.2" fill="#141414" stroke="#141414" stroke-width="0.35">0.74</text>
<text x="624.7" y="498.80" text-anchor="end" font-size="16.2" font-style="italic" fill="#3d3d3d">CAZ</text>
<text x="624.7" y="464.64" text-anchor="end" font-size="16.2" font-style="italic" fill="#3d3d3d">XNL</text>
<text x="624.7" y="430.48" text-anchor="end" font-size="16.2" font-style="italic" fill="#3d3d3d">blaTEM</text>
<text x="624.7" y="396.33" text-anchor="end" font-size="16.2" font-style="italic" fill="#3d3d3d">bla.ctxm</text>
<text x="624.7" y="362.17" text-anchor="end" font-size="16.2" font-style="italic" fill="#3d3d3d">bla.SHV2</text>
<text x="624.7" y="328.01" text-anchor="end" font-size="16.2" font-style="italic" fill="#3d3d3d">blaOXA.9</text>
<text x="624.7" y="293.86" text-anchor="end" font-size="16.2" font-style="italic" fill="#3d3d3d">TE</text>
<text x="624.7" y="259.70" text-anchor="end" font-size="16.2" font-style="italic" fill="#3d3d3d">tetB</text>
<text x="624.7" y="225.54" text-anchor="end" font-size="16.2" font-style="italic" fill="#3d3d3d">CL</text>
<text x="624.7" y="191.38" text-anchor="end" font-size="16.2" font-style="italic" fill="#3d3d3d">floR</text>
<text x="624.7" y="157.23" text-anchor="end" font-size="16.2" font-style="italic" fill="#3d3d3d">GEN</text>
<text x="624.7" y="123.07" text-anchor="end" font-size="16.2" font-style="italic" fill="#3d3d3d">AK</text>
<text x="624.7" y="88.91" text-anchor="end" font-size="16.2" font-style="italic" fill="#3d3d3d">strA</text>
<text x="624.7" y="54.76" text-anchor="end" font-size="16.2" font-style="italic" fill="#3d3d3d">aacA..3.</text>
<text x="624.7" y="20.60" text-anchor="end" font-size="16.2" font-style="italic" fill="#3d3d3d">COT</text>
<text transform="translate(30.30,528.7) rotate(-45)" text-anchor="end" font-size="16.2" font-style="italic" fill="#3d3d3d">XNL</text>
<text transform="translate(65.32,528.7) rotate(-45)" text-anchor="end" font-size="16.2" font-style="italic" fill="#3d3d3d">blaTEM</text>
<text transform="translate(100.34,528.7) rotate(-45)" text-anchor="end" font-size="16.2" font-style="italic" fill="#3d3d3d">bla.ctxm</text>
<text transform="translate(135.36,528.7) rotate(-45)" text-anchor="end" font-size="16.2" font-style="italic" fill="#3d3d3d">bla.SHV2</text>
<text transform="translate(170.38,528.7) rotate(-45)" text-anchor="end" font-size="16.2" font-style="italic" fill="#3d3d3d">blaOXA.9</text>
<text transform="translate(205.40,528.7) rotate(-45)" text-anchor="end" font-size="16.2" font-style="italic" fill="#3d3d3d">TE</text>
<text transform="translate(240.42,528.7) rotate(-45)" text-anchor="end" font-size="16.2" font-style="italic" fill="#3d3d3d">tetB</text>
<text transform="translate(275.44,528.7) rotate(-45)" text-anchor="end" font-size="16.2" font-style="italic" fill="#3d3d3d">CL</text>
<text transform="translate(310.46,528.7) rotate(-45)" text-anchor="end" font-size="16.2" font-style="italic" fill="#3d3d3d">floR</text>
<text transform="translate(345.48,528.7) rotate(-45)" text-anchor="end" font-size="16.2" font-style="italic" fill="#3d3d3d">GEN</text>
<text transform="translate(380.50,528.7) rotate(-45)" text-anchor="end" font-size="16.2" font-style="italic" fill="#3d3d3d">AK</text>
<text transform="translate(415.52,528.7) rotate(-45)" text-anchor="end" font-size="16.2" font-style="italic" fill="#3d3d3d">strA</text>
<text transform="translate(450.54,528.7) rotate(-45)" text-anchor="end" font-size="16.2" font-style="italic" fill="#3d3d3d">aacA..3.</text>
<text transform="translate(485.56,528.7) rotate(-45)" text-anchor="end" font-size="16.2" font-style="italic" fill="#3d3d3d">COT</text>
<text transform="translate(520.58,528.7) rotate(-45)" text-anchor="end" font-size="16.2" font-style="italic" fill="#3d3d3d">sul2</text>
<defs><linearGradient id="g" x1="0" y1="0" x2="0" y2="1">
<stop offset="0.0000" stop-color="#6200F5"/>
<stop offset="0.0400" stop-color="#9008F5"/>
<stop offset="0.0750" stop-color="#B010F5"/>
<stop offset="0.1300" stop-color="#C535F5"/>
<stop offset="0.2000" stop-color="#D55AF5"/>
<stop offset="0.2500" stop-color="#DC6EF5"/>
<stop offset="0.3750" stop-color="#F2AEFA"/>
<stop offset="0.4500" stop-color="#FADCFD"/>
<stop offset="0.5000" stop-color="#FFFFFF"/>
<stop offset="0.5500" stop-color="#FFF2E0"/>
<stop offset="0.6250" stop-color="#FEDDB0"/>
<stop offset="0.7500" stop-color="#FDAC50"/>
<stop offset="0.9150" stop-color="#FD7C14"/>
<stop offset="0.9250" stop-color="#FE6206"/>
<stop offset="1.0000" stop-color="#FF5F04"/>
</linearGradient></defs>
<rect x="646.6" y="366.5" width="29.7" height="136.2" fill="url(#g)"/>
<path transform="translate(684.00,372.00) skewX(-12) scale(0.007520,-0.007520)" d="M763 0H583V1147Q518 1085 412.5 1023T223 930V1104Q373 1174.5 485 1275T644 1470H763Z" fill="#1c1c1c" stroke="#1c1c1c" stroke-width="25"/>
<text x="692.56" y="372.00" font-size="15.4" font-style="italic" fill="#1c1c1c" stroke="#1c1c1c" stroke-width="0.2">.0</text>
<rect x="646.6" y="366.30" width="6" height="0.8" fill="#fff" opacity="0.8"/><rect x="670.3" y="366.30" width="6" height="0.8" fill="#fff" opacity="0.8"/>
<text x="684.00" y="405.95" font-size="15.4" font-style="italic" fill="#1c1c1c" stroke="#1c1c1c" stroke-width="0.2">0.5</text>
<rect x="646.6" y="400.25" width="6" height="0.8" fill="#fff" opacity="0.8"/><rect x="670.3" y="400.25" width="6" height="0.8" fill="#fff" opacity="0.8"/>
<text x="684.00" y="439.90" font-size="15.4" font-style="italic" fill="#1c1c1c" stroke="#1c1c1c" stroke-width="0.2">0.0</text>
<rect x="646.6" y="434.20" width="6" height="0.8" fill="#fff" opacity="0.8"/><rect x="670.3" y="434.20" width="6" height="0.8" fill="#fff" opacity="0.8"/>
<text x="684.00" y="473.85" font-size="15.4" font-style="italic" fill="#1c1c1c" stroke="#1c1c1c" stroke-width="0.2">-0.5</text>
<rect x="646.6" y="468.15" width="6" height="0.8" fill="#fff" opacity="0.8"/><rect x="670.3" y="468.15" width="6" height="0.8" fill="#fff" opacity="0.8"/>
<text x="684.00" y="507.80" font-size="15.4" font-style="italic" fill="#1c1c1c" stroke="#1c1c1c" stroke-width="0.2">-</text>
<path transform="translate(689.13,507.80) skewX(-12) scale(0.007520,-0.007520)" d="M763 0H583V1147Q518 1085 412.5 1023T223 930V1104Q373 1174.5 485 1275T644 1470H763Z" fill="#1c1c1c" stroke="#1c1c1c" stroke-width="25"/>
<text x="697.69" y="507.80" font-size="15.4" font-style="italic" fill="#1c1c1c" stroke="#1c1c1c" stroke-width="0.2">.0</text>
<rect x="646.6" y="502.10" width="6" height="0.8" fill="#fff" opacity="0.8"/><rect x="670.3" y="502.10" width="6" height="0.8" fill="#fff" opacity="0.8"/>
<text x="637" y="348.3" font-size="14.3" font-weight="bold" fill="#000" stroke="#000" stroke-width="0.85" textLength="85" lengthAdjust="spacingAndGlyphs">Correlation</text>
<circle cx="631.3" cy="540.3" r="0.6" fill="#777"/>
</svg></body></html>
